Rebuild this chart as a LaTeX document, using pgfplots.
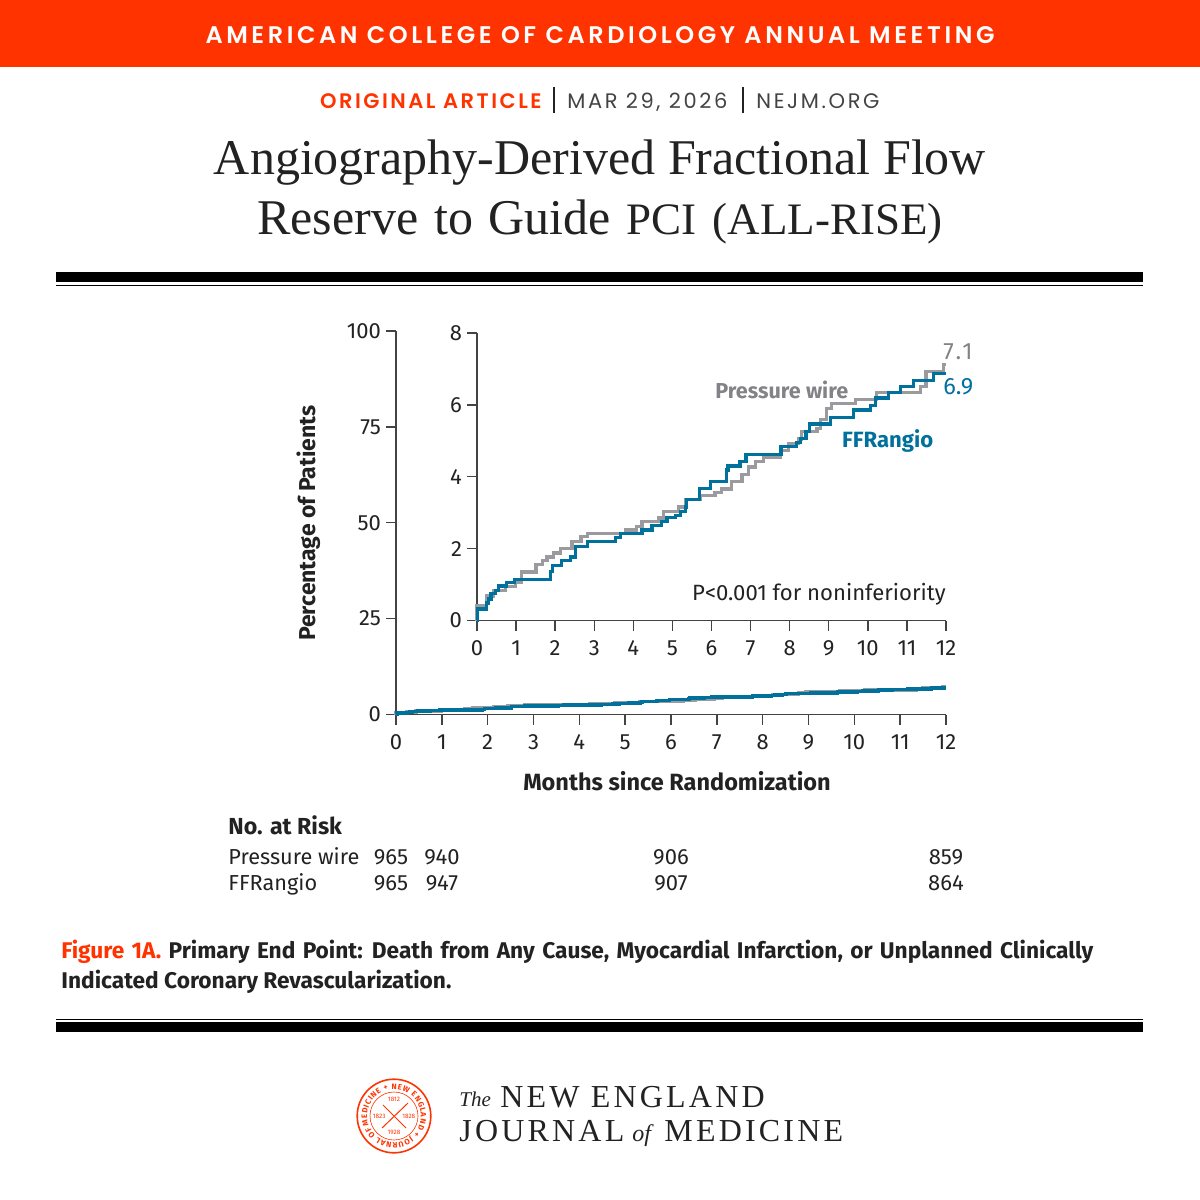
\documentclass[border=0pt]{standalone}
\usepackage{fontspec}
\usepackage{pgfplots}
\usepackage{pgfplotstable}
\pgfplotsset{compat=1.18}
\usetikzlibrary{decorations.text}
\setmainfont{Fira Sans}
\newfontfamily\serif{Liberation Serif}
\newfontfamily\bannerfont[LetterSpace=15]{Poppins SemiBold}
\newfontfamily\metafont[LetterSpace=12.5]{Poppins}
\newfontfamily\metabold[LetterSpace=12]{Poppins SemiBold}
\newfontfamily\titlefont{Liberation Serif}
\newfontfamily\logofont[LetterSpace=10]{Liberation Serif}
\definecolor{nejmred}{HTML}{FF3300}
\definecolor{wire}{HTML}{9A9A9F}
\definecolor{ffr}{HTML}{00709C}
\definecolor{ink}{HTML}{222222}
\pgfplotstableread{
m v
0 0
0.0 .42
.24 .68
.43 .84
.73 .95
.98 1.05
1.13 1.35
1.51 1.56
1.68 1.68
1.79 1.77
1.96 1.88
2.13 2.0
2.43 2.19
2.66 2.33
2.82 2.42
3.79 2.52
4.09 2.62
4.22 2.75
4.65 2.85
4.78 3.03
5.16 3.16
5.33 3.37
5.71 3.48
6.09 3.57
6.26 3.66
6.52 3.87
6.78 4.07
6.95 4.27
7.12 4.42
7.33 4.55
7.76 4.73
7.97 4.93
8.23 5.05
8.31 5.27
8.7 5.35
8.78 5.6
8.95 5.91
9.08 6.03
9.68 6.14
10.23 6.35
11.34 6.51
11.49 6.93
11.94 7.13
12 7.13
}\wiretable
\pgfplotstableread{
m v
0 0
.02 .32
.24 .49
.30 .60
.36 .75
.47 .84
.56 .96
.75 1.05
.96 1.14
1.88 1.355
1.93 1.54
2.17 1.68
2.39 1.77
2.52 2.07
2.82 2.2
3.54 2.3
3.67 2.42
4.22 2.52
4.48 2.65
4.73 2.75
4.86 2.86
5.07 2.93
5.2 3.03
5.33 3.16
5.37 3.37
5.7 3.68
5.97 3.87
6.39 4.19
6.42 4.3
6.73 4.42
6.88 4.63
7.78 4.84
8.18 4.95
8.27 5.06
8.42 5.25
8.51 5.47
9.04 5.66
9.63 5.86
10.06 5.99
10.19 6.19
10.53 6.34
10.83 6.51
11.17 6.67
11.68 6.87
12 6.87
}\ffrtable
\pgfplotsset{kmstyle/.style={
  scale only axis, axis lines=left, axis line style={-,draw=ink!85,line width=0.7pt},
  tick style={draw=ink!85,line width=0.7pt}, tick align=outside,
  major tick length=5pt, clip=false,
  xmin=0,xmax=12,xtick={0,...,12},
  ticklabel style={font=\fontsize{11}{12}\selectfont,text=ink},
  /pgf/number format/assume math mode=true,
  yticklabel style={xshift=1pt},
}}
\begin{document}
\begin{tikzpicture}
\useasboundingbox (0,0) rectangle (600pt,-600pt);
\begin{scope}[x=0.5pt,y=-0.5pt]
\fill[nejmred] (0,0) rectangle (1200,67);
\node[anchor=base,text=white,inner sep=0] at (600,43) {\bannerfont\fontsize{12}{14}\selectfont AMERICAN COLLEGE OF CARDIOLOGY ANNUAL MEETING};
\node[anchor=base east,inner sep=0,text=nejmred] at (542,108) {\metabold\fontsize{10.5}{12}\selectfont ORIGINAL ARTICLE};
\draw[ink,line width=0.6pt] (554,87) -- (554,113);
\node[anchor=base west,inner sep=0,text=ink!85] at (567,108) {\metafont\fontsize{10.5}{12}\selectfont MAR 29, 2026};
\draw[ink,line width=0.6pt] (743,87) -- (743,113);
\node[anchor=base west,inner sep=0,text=ink!85] at (756,108) {\metafont\fontsize{10.5}{12}\selectfont NEJM.ORG};
\node[anchor=base,inner sep=0,text=ink] at (600,174) {\titlefont\fontsize{25}{30}\selectfont Angiography-Derived Fractional Flow};
\node[anchor=base,inner sep=0,text=ink] at (600,234) {\titlefont\fontsize{25}{30}\selectfont\spaceskip=7.9pt Reserve to Guide \fontsize{22.5}{30}\selectfont PCI (ALL-RISE)};
\fill[black] (56,272) rectangle (1143,282);
\fill[black] (56,284.5) rectangle (1143,285.5);
\fill[black] (56,1019) rectangle (1143,1020);
\fill[black] (56,1022) rectangle (1143,1032);
\node[anchor=base west,inner sep=0,text=ink] at (228,834) {\fontsize{11.6}{13}\selectfont\bfseries No. at Risk};
\node[anchor=base west,inner sep=0,text=ink] at (228,864) {\fontsize{10.85}{13}\selectfont Pressure wire};
\node[anchor=base west,inner sep=0,text=ink] at (228,890) {\fontsize{10.85}{13}\selectfont FFRangio};
\foreach \xx/\a/\b in {391/965/965,442/940/947,671/906/907,946/859/864}{
 \node[anchor=base,inner sep=0,text=ink] at (\xx,864) {\fontsize{11}{13}\selectfont \a};
 \node[anchor=base,inner sep=0,text=ink] at (\xx,890) {\fontsize{11}{13}\selectfont \b};
}
\node[anchor=base west,inner sep=0] at (61,958) {\fontsize{11.35}{13}\selectfont\bfseries\spaceskip=3.65pt \textcolor{nejmred}{Figure 1A.} \textcolor{ink}{Primary End Point: Death from Any Cause, Myocardial Infarction, or Unplanned Clinically}};
\node[anchor=base west,inner sep=0,text=ink] at (61,988) {\fontsize{11.35}{13}\selectfont\bfseries Indicated Coronary Revascularization.};
\node[anchor=base,inner sep=0,text=ink] at (677,790) {\fontsize{11.75}{13}\selectfont\bfseries Months since Randomization};
\node[anchor=center,inner sep=0,text=ink,rotate=90] at (309,523) {\fontsize{11.5}{13}\selectfont\bfseries Percentage of Patients};
% wordmark
\node[anchor=base west,inner sep=0,text=ink] at (459,1106) {\serif\itshape\fontsize{10.5}{12}\selectfont The};
\node[anchor=base west,inner sep=0,text=ink] at (500,1107) {\logofont\fontsize{16}{18}\selectfont NEW ENGLAND};
\node[anchor=base west,inner sep=0,text=ink] at (459,1141) {\logofont\fontsize{16}{18}\selectfont JOURNAL};
\node[anchor=base west,inner sep=0,text=ink] at (632,1141) {\serif\itshape\fontsize{12}{14}\selectfont of};
\node[anchor=base west,inner sep=0,text=ink] at (664,1141) {\logofont\fontsize{16}{18}\selectfont MEDICINE};
\end{scope}
% seal
\begin{scope}[shift={(197pt,-558pt)}]
\draw[nejmred,line width=0.8pt] (0,0) circle (18.4pt);
\draw[nejmred,line width=0.3pt] (0,0) circle (12pt);
\path[decorate,decoration={text along path,text align={fit to path},
  text={|\bfseries\fontsize{3.9}{4}\selectfont\color{nejmred}|MEDICINE + NEW ENGLAND + JOURNAL OF}}]
  (200:13.4pt) arc[start angle=200,end angle=-155,radius=13.4pt];
\draw[nejmred,line width=0.5pt] (-5.5pt,5.5pt) -- (6pt,-6pt);
\draw[nejmred,line width=0.5pt] (7pt,6.5pt) -- (-6pt,-6pt);
\node[inner sep=0,text=nejmred] at (0,8.2pt) {\fontsize{3.2}{4}\selectfont 1812};
\node[inner sep=0,text=nejmred] at (-7.4pt,0) {\fontsize{3.2}{4}\selectfont 1823};
\node[inner sep=0,text=nejmred] at (7.4pt,0) {\fontsize{3.2}{4}\selectfont 1828};
\node[inner sep=0,text=nejmred] at (0,-8.2pt) {\fontsize{3.2}{4}\selectfont 1928};
\end{scope}
% main axis
\begin{axis}[kmstyle, at={(198pt,-357.25pt)}, anchor=south west,
  width=275pt, height=191.75pt, ymin=0,ymax=100,ytick={0,25,50,75,100},
  xticklabel style={yshift=-1.5pt}]
\addplot[const plot,wire,line width=1.8pt] table[x=m,y=v] {\wiretable};
\addplot[const plot,ffr,line width=1.8pt] table[x=m,y=v] {\ffrtable};
\end{axis}
% inset axis
\begin{axis}[kmstyle, at={(238.5pt,-310.25pt)}, anchor=south west,
  width=234.5pt, height=143.75pt, ymin=0,ymax=8,ytick={0,2,4,6,8},
  xticklabel style={yshift=-1.5pt}]
\addplot[const plot,wire,line width=1.6pt] table[x=m,y=v] {\wiretable};
\addplot[const plot,ffr,line width=1.6pt] table[x=m,y=v] {\ffrtable};
\node[anchor=base west,inner sep=0,text=wire!85!black] at (axis cs:6.09,6.18) {\fontsize{10.8}{12}\selectfont\bfseries Pressure wire};
\node[anchor=base west,inner sep=0,text=ffr] at (axis cs:9.33,4.82) {\fontsize{11.05}{12}\selectfont\bfseries FFRangio};
\node[anchor=base east,inner sep=0,text=ink] at (axis cs:12,0.57) {\fontsize{11.05}{12}\selectfont P<0.001 for noninferiority};
\node[anchor=base west,inner sep=0,text=wire!85!black] at (axis cs:11.92,7.25) {\fontsize{11.8}{12}\selectfont 7\kern1pt.\kern0.5pt1};
\node[anchor=base west,inner sep=0,text=ffr] at (axis cs:11.92,6.3) {\fontsize{11.8}{12}\selectfont 6.9};
\end{axis}
\end{tikzpicture}
\end{document}
